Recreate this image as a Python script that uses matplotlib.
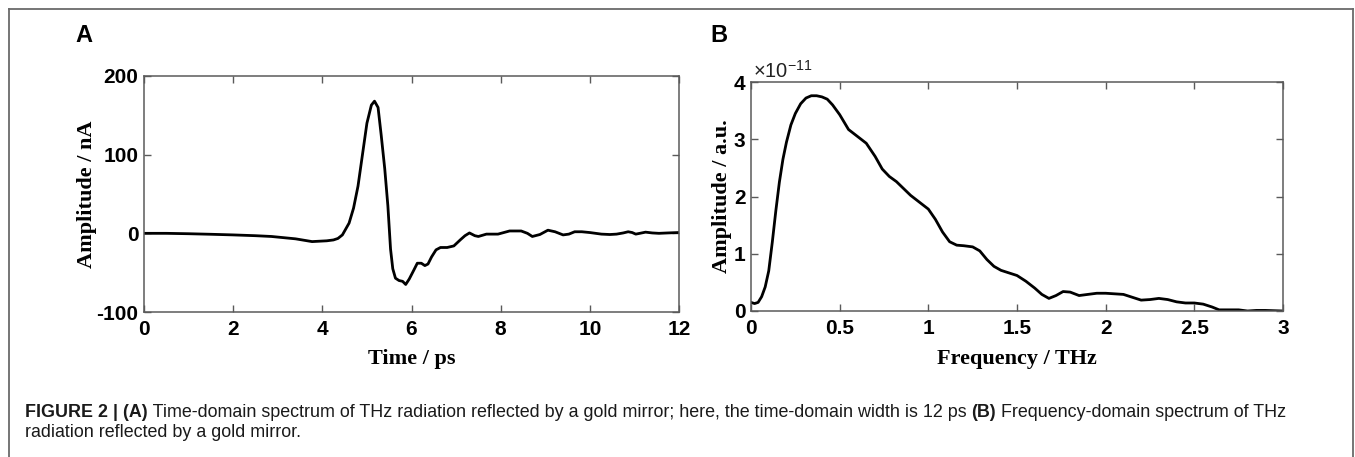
import matplotlib
matplotlib.use("Agg")
import matplotlib.pyplot as plt
from matplotlib.lines import Line2D
import numpy as np

# ---------------- data ----------------
time_ps = [0, 0.5, 1.0, 1.5, 2.0, 2.5, 2.86, 3.4, 3.77, 4.1, 4.25, 4.35, 4.45, 4.6, 4.7,
           4.8, 4.9, 5.0, 5.1, 5.17, 5.25, 5.32, 5.4, 5.47, 5.53, 5.58, 5.64, 5.72, 5.8,
           5.87, 5.95, 6.05, 6.13, 6.22, 6.3, 6.37, 6.45, 6.55, 6.65, 6.8, 6.95, 7.1, 7.2,
           7.3, 7.42, 7.5, 7.68, 7.94, 8.2, 8.46, 8.6, 8.71, 8.88, 9.06, 9.22, 9.4, 9.53,
           9.66, 9.82, 10.0, 10.26, 10.45, 10.6, 10.75, 10.86, 10.95, 11.03, 11.12, 11.25,
           11.4, 11.55, 11.75, 11.98]
amp_nA = [0, 0, -0.5, -1.2, -2, -3, -4, -7, -10.5, -9.5, -8.4, -6.5, -2, 13, 32,
          60, 100, 140, 163, 168, 160, 125, 82, 35, -20, -45, -57, -60, -61,
          -65, -58, -47, -38, -38, -41, -39, -30, -21, -18, -18, -16, -8, -3,
          0.5, -3, -4, -1, -1, 3, 3, 0, -4, -1.5, 4, 2, -2, -1,
          2, 2, 1, -1, -1.5, -1, 0.5, 2, 1, -1, 0, 1.5,
          0.5, 0, 0.5, 1]

freq_THz = [0, 0.02, 0.04, 0.06, 0.08, 0.1, 0.12, 0.14, 0.16, 0.18, 0.2, 0.225, 0.25,
            0.28, 0.31, 0.34, 0.37, 0.4, 0.43, 0.46, 0.5, 0.55, 0.6, 0.65, 0.7, 0.74,
            0.78, 0.82, 0.86, 0.9, 0.95, 1.0, 1.04, 1.08, 1.12, 1.16, 1.2, 1.25, 1.29,
            1.33, 1.37, 1.41, 1.46, 1.5, 1.55, 1.6, 1.64, 1.68, 1.72, 1.76, 1.8, 1.85,
            1.9, 1.95, 2.0, 2.05, 2.1, 2.15, 2.2, 2.25, 2.3, 2.35, 2.4, 2.45, 2.5, 2.55,
            2.6, 2.64, 2.7, 2.75, 2.8, 2.85, 2.9, 2.95, 3.0]
spec_e11 = [0.15, 0.13, 0.15, 0.25, 0.42, 0.7, 1.2, 1.75, 2.25, 2.65, 2.95, 3.25, 3.45,
            3.62, 3.72, 3.76, 3.76, 3.74, 3.70, 3.6, 3.43, 3.17, 3.05, 2.93, 2.7, 2.48,
            2.35, 2.26, 2.14, 2.02, 1.9, 1.78, 1.6, 1.38, 1.21, 1.15, 1.14, 1.12, 1.05,
            0.9, 0.78, 0.71, 0.66, 0.62, 0.52, 0.4, 0.29, 0.22, 0.27, 0.34, 0.33, 0.27,
            0.29, 0.31, 0.31, 0.3, 0.29, 0.24, 0.19, 0.2, 0.22, 0.2, 0.16, 0.14, 0.14, 0.12,
            0.07, 0.02, 0.02, 0.02, 0.0, 0.01, 0.01, 0.005, 0.0]

xticks_A = [0, 2, 4, 6, 8, 10, 12]
yticks_A = [-100, 0, 100, 200]
xticks_B = [0, 0.5, 1, 1.5, 2, 2.5, 3]
xticklabels_B = ["0", "0.5", "1", "1.5", "2", "2.5", "3"]
yticks_B = [0, 1, 2, 3, 4]

caption_line1 = [("FIGURE 2 | (A)", "bold"),
                 (" Time-domain spectrum of THz radiation reflected by a gold mirror; here, the time-domain width is 12 ps ", "normal"),
                 ("(B)", "bold"),
                 (" Frequency-domain spectrum of THz", "normal")]
caption_line2 = [("radiation reflected by a gold mirror.", "normal")]

# ---------------- style ----------------
plt.rcParams['mathtext.fontset'] = 'custom'
plt.rcParams['mathtext.rm'] = 'Liberation Sans'
plt.rcParams['mathtext.default'] = 'regular'
plt.rcParams['axes.unicode_minus'] = False

W, H = 1355, 457
fig = plt.figure(figsize=(W / 100, H / 100), dpi=100)
fig.patch.set_facecolor('white')

def fx(px):
    return px / W

def fy(py):
    return 1 - py / H

spine_col = '#5a5a5a'
tick_font = dict(family='Liberation Sans', weight='bold', size=15)
label_font = dict(family='Liberation Serif', weight='bold', size=16)

def style_axes(ax):
    for s in ax.spines.values():
        s.set_color(spine_col)
        s.set_linewidth(1.1)
    ax.tick_params(direction='in', length=5, width=1, color=spine_col,
                   top=True, right=True, pad=4)
    ax.tick_params(axis='x', pad=6)
    for lab in ax.get_xticklabels() + ax.get_yticklabels():
        lab.set_fontfamily(tick_font['family'])
        lab.set_fontweight(tick_font['weight'])
        lab.set_fontsize(tick_font['size'])

# ---------------- Panel A ----------------
axA = fig.add_axes([fx(144), fy(312), fx(679) - fx(144), fy(76) - fy(312)])
axA.plot(time_ps, amp_nA, color='black', lw=2.0, solid_joinstyle='round')
axA.set_xlim(0, 12)
axA.set_ylim(-100, 200)
axA.set_xticks(xticks_A)
axA.set_yticks(yticks_A)
style_axes(axA)
axA.set_xlabel("Time / ps", **label_font)
axA.set_ylabel("Amplitude / nA", **label_font)
axA.xaxis.set_label_coords(0.5, -0.158)
axA.yaxis.set_label_coords(-0.088, 0.5)

# ---------------- Panel B ----------------
axB = fig.add_axes([fx(751), fy(311), fx(1283) - fx(751), fy(82) - fy(311)])
axB.plot(freq_THz, np.array(spec_e11) * 1e-11, color='black', lw=2.0, solid_joinstyle='round')
axB.set_xlim(0, 3)
axB.set_ylim(0, 4e-11)
axB.set_xticks(xticks_B)
axB.set_xticklabels(xticklabels_B)
axB.set_yticks([v * 1e-11 for v in yticks_B])
axB.set_yticklabels([str(v) for v in yticks_B])
style_axes(axB)
axB.set_xlabel("Frequency / THz", **label_font)
axB.set_ylabel("Amplitude / a.u.", **label_font)
axB.xaxis.set_label_coords(0.5, -0.165)
axB.yaxis.set_label_coords(-0.036, 0.5)
fig.text(fx(753), fy(71), r"×10$^{-11}$", family='Liberation Sans', size=14.5,
         ha='left', va='center', color='#222222')

# ---------------- panel letters ----------------
fig.text(fx(75), fy(36), "A", family='Liberation Sans', weight='bold', size=17,
         ha='left', va='center')
fig.text(fx(710), fy(36), "B", family='Liberation Sans', weight='bold', size=17,
         ha='left', va='center')

# ---------------- outer frame ----------------
frame_col = '#6a6a6a'
fig.add_artist(Line2D([fx(9), fx(1353)], [fy(9), fy(9)], color=frame_col, lw=1.3,
                      transform=fig.transFigure))
fig.add_artist(Line2D([fx(9), fx(9)], [fy(9), 0], color=frame_col, lw=1.3,
                      transform=fig.transFigure))
fig.add_artist(Line2D([fx(1353), fx(1353)], [fy(9), 0], color=frame_col, lw=1.3,
                      transform=fig.transFigure))

# ---------------- caption ----------------
renderer = fig.canvas.get_renderer()

def draw_line(pieces, x0, ybase, size):
    x = x0
    arts = []
    for txt, wt in pieces:
        t = fig.text(fx(x), fy(ybase), txt, family='Liberation Sans', weight=wt,
                     size=size, ha='left', va='baseline', color='#1a1a1a')
        bb = t.get_window_extent(renderer=renderer)
        x += bb.width
        arts.append(t)
    return arts, x - x0

# fit caption width to the reference (approx. 1255 px for line 1)
base = 11.0
arts, width = draw_line(caption_line1, 25, 418, base)
for a in arts:
    a.remove()
cap_size = base * 1255.0 / width
draw_line(caption_line1, 25, 417, cap_size)
draw_line(caption_line2, 25, 437, cap_size)

fig.savefig("out.png", dpi=100, facecolor='white')
